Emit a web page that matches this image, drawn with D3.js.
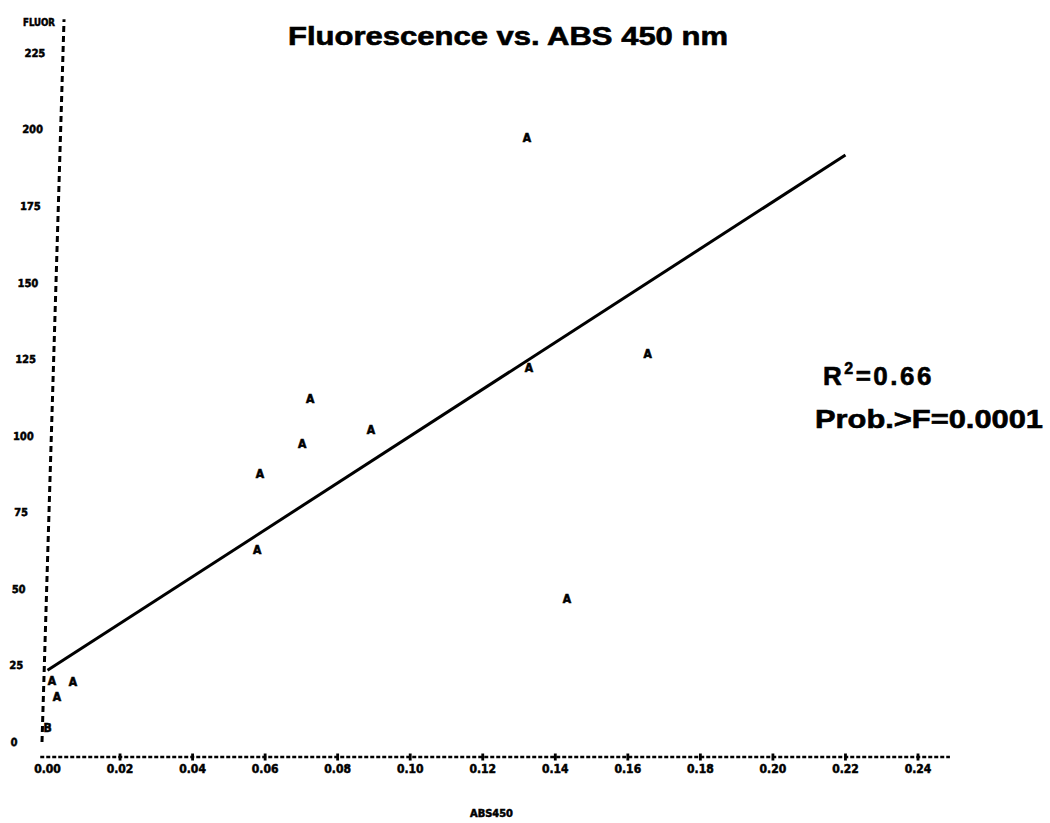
<!DOCTYPE html>
<html>
<head>
<meta charset="utf-8">
<script src="https://cdn.jsdelivr.net/npm/d3@7"></script>
<style>
  body { margin: 0; background: #fff; }
  svg text { fill: #000; }
</style>
</head>
<body>
<svg id="chart" width="1050" height="823"></svg>
<script>
// Absorbance at 450 nm and fluorescence for each sample
const absValues   = [0.1322, 0.1655, 0.1327, 0.0724, 0.0702, 0.0892, 0.0586, 0.0578, 0.1432, 0.0070, 0.0012, 0.0026, 0.0000];
const fluorValues = [197.3, 126.7, 122.1, 112.0, 97.3, 101.9, 87.5, 62.7, 46.7, 19.6, 19.9, 14.7, 4.6];
// Plot symbol per observation (B = two coincident observations)
const plotSymbols = ["A", "A", "A", "A", "A", "A", "A", "A", "A", "A", "A", "A", "B"];

const xTicks = [0, 0.02, 0.04, 0.06, 0.08, 0.10, 0.12, 0.14, 0.16, 0.18, 0.20, 0.22, 0.24];
const xTickLabels = ["0.00", "0.02", "0.04", "0.06", "0.08", "0.10", "0.12", "0.14", "0.16", "0.18", "0.20", "0.22", "0.24"];
const yTicks = [0, 25, 50, 75, 100, 125, 150, 175, 200, 225];

// Least-squares fit: FLUOR = intercept + slope * ABS450
const fitIntercept = 23.4;
const fitSlope = 765;
const fitRange = [0, 0.22];
const statLines = ["=0.66", "Prob.>F=0.0001"];

const svg = d3.select("#chart");
const x = d3.scaleLinear().domain([0, 0.24]).range([47.5, 918]);
const y = d3.scaleLinear().domain([0, 225]).range([742, 53]);
const xAxisY = 757;
const narrow = "'DejaVu Sans Condensed', 'Liberation Sans Narrow', 'DejaVu Sans', sans-serif";
const heavy = "'Liberation Sans', Arial, sans-serif";

// Title
svg.append("text")
  .attr("x", 288).attr("y", 45)
  .attr("font-family", heavy).attr("font-weight", "bold").attr("font-size", 25)
  .attr("stroke", "#000").attr("stroke-width", 0.6)
  .attr("textLength", 440).attr("lengthAdjust", "spacingAndGlyphs")
  .text("Fluorescence vs. ABS 450 nm");

// Y axis: dashed, slightly leaning line with labels
const yAxisG = svg.append("g")
  .attr("transform", `translate(42,742) skewX(-1.746) translate(0,-742)`);
yAxisG.append("line")
  .attr("x1", 0).attr("x2", 0)
  .attr("y1", y(0)).attr("y2", y(236))
  .attr("stroke", "#000").attr("stroke-width", 3)
  .attr("stroke-dasharray", "6,4");
yAxisG.selectAll("text.ytick").data(yTicks).join("text")
  .attr("class", "ytick")
  .attr("x", -28).attr("y", d => y(d)).attr("dy", "0.35em")
  .attr("text-anchor", "middle")
  .attr("font-family", narrow).attr("font-weight", "bold").attr("font-size", 11)
  .attr("stroke", "#000").attr("stroke-width", 0.5)
  .text(d => d);

svg.append("text")
  .attr("x", 23).attr("y", 26)
  .attr("font-family", narrow).attr("font-weight", "bold").attr("font-size", 10)
  .attr("stroke", "#000").attr("stroke-width", 0.5)
  .attr("textLength", 32).attr("lengthAdjust", "spacingAndGlyphs")
  .text("FLUOR");

// X axis: dashed line with tick bars
svg.append("line")
  .attr("x1", x(-0.002)).attr("x2", x(0.2488))
  .attr("y1", xAxisY).attr("y2", xAxisY)
  .attr("stroke", "#000").attr("stroke-width", 2.4)
  .attr("stroke-dasharray", "4,2");
svg.selectAll("rect.xtick").data(xTicks.slice(1)).join("rect")
  .attr("class", "xtick")
  .attr("x", d => x(d) - 1.4).attr("y", xAxisY - 3.5)
  .attr("width", 2.8).attr("height", 7)
  .attr("fill", "#000");
svg.selectAll("text.xtick").data(xTicks).join("text")
  .attr("class", "xtick")
  .attr("x", d => x(d)).attr("y", 773)
  .attr("text-anchor", "middle")
  .attr("font-family", narrow).attr("font-weight", "bold").attr("font-size", 12)
  .attr("stroke", "#000").attr("stroke-width", 0.5)
  .text((d, i) => xTickLabels[i]);
svg.append("text")
  .attr("x", 470).attr("y", 817)
  .attr("font-family", narrow).attr("font-weight", "bold").attr("font-size", 10)
  .attr("stroke", "#000").attr("stroke-width", 0.5)
  .attr("textLength", 43).attr("lengthAdjust", "spacingAndGlyphs")
  .text("ABS450");

// Regression line
const fitLine = d3.line().x(d => x(d)).y(d => y(fitIntercept + fitSlope * d));
svg.append("path")
  .attr("d", fitLine(fitRange))
  .attr("fill", "none").attr("stroke", "#000").attr("stroke-width", 3);

// Observations
svg.selectAll("text.obs").data(absValues).join("text")
  .attr("class", "obs")
  .attr("x", d => x(d)).attr("y", (d, i) => y(fluorValues[i])).attr("dy", "0.36em")
  .attr("text-anchor", "middle")
  .attr("font-family", narrow).attr("font-weight", "bold").attr("font-size", 12)
  .attr("stroke", "#000").attr("stroke-width", 0.6)
  .text((d, i) => plotSymbols[i]);

// Fit statistics
const r2 = svg.append("text")
  .attr("x", 823).attr("y", 385)
  .attr("font-family", heavy).attr("font-weight", "bold").attr("font-size", 26)
  .attr("stroke", "#000").attr("stroke-width", 0.6)
  .attr("letter-spacing", 2.5);
r2.append("tspan").text("R");
r2.append("tspan").attr("font-size", 16).attr("dy", -11).text("2");
r2.append("tspan").attr("dy", 11).text(statLines[0]);
svg.append("text")
  .attr("x", 815).attr("y", 428)
  .attr("font-family", heavy).attr("font-weight", "bold").attr("font-size", 26)
  .attr("stroke", "#000").attr("stroke-width", 0.6)
  .attr("textLength", 228).attr("lengthAdjust", "spacingAndGlyphs")
  .text(statLines[1]);
</script>
</body>
</html>
